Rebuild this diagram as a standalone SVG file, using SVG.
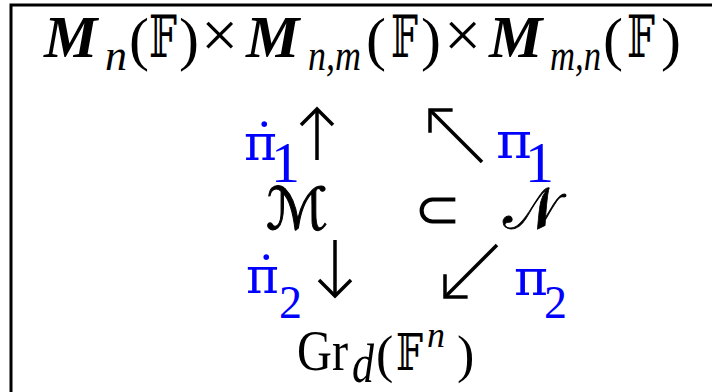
<svg xmlns="http://www.w3.org/2000/svg" width="712" height="392" viewBox="0 0 712 392">
<style>
.s{font-family:"Liberation Serif","Times New Roman",serif;fill:#000}
.bi{font-weight:bold;font-style:italic}
.i{font-style:italic}
.ds{font-family:"DejaVu Serif","DejaVu Sans",serif}
.b{fill:#0000FF}
.ar{stroke:#000;stroke-width:3.5;fill:none}
</style>
<defs>
<marker id="ah" viewBox="0 0 22 36" refX="19" refY="18" markerWidth="22" markerHeight="36" markerUnits="userSpaceOnUse" orient="auto">
<path d="M3,2 L19,18 L3,34" fill="none" stroke="#000" stroke-width="3.5"/>
</marker>
</defs>
<rect x="11" y="5" width="720" height="400" fill="#fff" stroke="#000" stroke-width="3"/>
<g id="top">
<text class="s bi" x="44" y="57" font-size="60">M</text>
<text class="s i" x="105" y="70" font-size="44">n</text>
<text class="s" x="129" y="59" font-size="60">(</text>
<text class="s ds" x="149" y="57" font-size="58" textLength="28" lengthAdjust="spacingAndGlyphs">𝔽</text>
<text class="s" x="179" y="59" font-size="60">)</text>
<text class="s" x="201" y="57" font-size="66">×</text>
<text class="s bi" x="246" y="57" font-size="60">M</text>
<text class="s i" x="308" y="70" font-size="44" textLength="53" lengthAdjust="spacingAndGlyphs">n,m</text>
<text class="s" x="366" y="59" font-size="60">(</text>
<text class="s ds" x="391" y="57" font-size="58" textLength="27" lengthAdjust="spacingAndGlyphs">𝔽</text>
<text class="s" x="421" y="59" font-size="60">)</text>
<text class="s" x="444" y="57" font-size="66">×</text>
<text class="s bi" x="489" y="57" font-size="60">M</text>
<text class="s i" x="550" y="70" font-size="44" textLength="51" lengthAdjust="spacingAndGlyphs">m,n</text>
<text class="s" x="603" y="59" font-size="60">(</text>
<text class="s ds" x="627" y="57" font-size="58" textLength="28" lengthAdjust="spacingAndGlyphs">𝔽</text>
<text class="s" x="661" y="59" font-size="60">)</text>
</g>
<g id="pi1dot">
<text class="s ds b" x="244" y="160" font-size="50">π̇</text>
<text class="s b" x="271" y="182" font-size="58">1</text>
</g>
<g id="pi1">
<text class="s ds b" x="496" y="158" font-size="50" textLength="36" lengthAdjust="spacingAndGlyphs">π</text>
<text class="s b" x="525" y="182" font-size="58">1</text>
</g>
<g id="M">
<text class="s ds" x="266" y="229" font-size="58" stroke="#000" stroke-width="1">ℳ</text>
</g>
<g id="subset">
<text class="s" x="414" y="228" font-size="56">⊂</text>
</g>
<g id="N">
<text class="s ds" x="503" y="228" font-size="58" stroke="#000" stroke-width="0.8">𝒩</text>
</g>
<g id="pi2dot">
<text class="s ds b" x="246" y="293" font-size="50">π̇</text>
<text class="s b" x="279" y="318" font-size="46">2</text>
</g>
<g id="pi2">
<text class="s ds b" x="514" y="295" font-size="50" textLength="34" lengthAdjust="spacingAndGlyphs">π</text>
<text class="s b" x="544" y="318" font-size="46">2</text>
</g>
<g id="Gr">
<text class="s" x="297" y="370" font-size="58" textLength="51" lengthAdjust="spacingAndGlyphs">Gr</text>
<text class="s i" x="352" y="382" font-size="54" textLength="22" lengthAdjust="spacingAndGlyphs">d</text>
<text class="s" x="376" y="372" font-size="52">(</text>
<text class="s ds" x="396" y="370" font-size="50" textLength="27" lengthAdjust="spacingAndGlyphs">𝔽</text>
<text class="s i" x="427" y="347" font-size="36">n</text>
<text class="s" x="457" y="372" font-size="52">)</text>
</g>
<g id="connectors">
<line class="ar" x1="317" y1="160" x2="317" y2="109" marker-end="url(#ah)"/>
<line class="ar" x1="482" y1="162" x2="430" y2="110" marker-end="url(#ah)"/>
<line class="ar" x1="335" y1="240" x2="335" y2="296" marker-end="url(#ah)"/>
<line class="ar" x1="497" y1="245" x2="445" y2="297" marker-end="url(#ah)"/>
</g>
</svg>
